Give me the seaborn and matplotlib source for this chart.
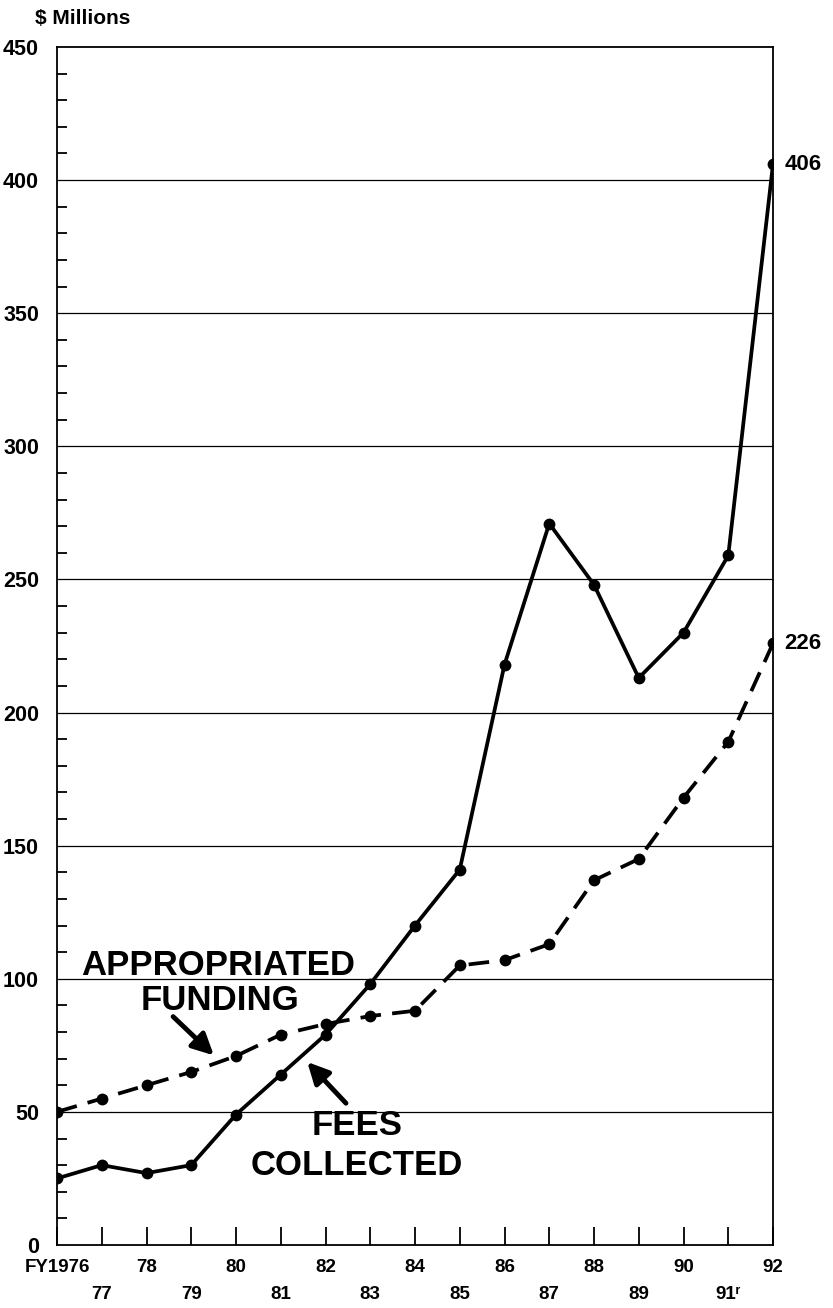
import matplotlib
matplotlib.use('Agg')
import matplotlib.pyplot as plt
import seaborn as sns
import pandas as pd

# データ
years = list(range(1976, 1993))
fees_collected = [25, 30, 27, 30, 49, 64, 79, 98, 120, 141, 218, 271, 248, 213, 230, 259, 406]
appropriated = [50, 55, 60, 65, 71, 79, 83, 86, 88, 105, 107, 113, 137, 145, 168, 189, 226]
year_labels = ['FY1976', '77', '78', '79', '80', '81', '82', '83', '84', '85',
               '86', '87', '88', '89', '90', '91\u02b3', '92']

df = pd.DataFrame({'year': years, 'fees': fees_collected, 'approp': appropriated})

sns.set_style('white')
plt.rcParams['font.family'] = ['Liberation Sans', 'DejaVu Sans']
plt.rcParams['font.weight'] = 'bold'
plt.rcParams['text.color'] = 'black'
plt.rcParams['xtick.color'] = 'black'
plt.rcParams['ytick.color'] = 'black'

fig = plt.figure(figsize=(8.33, 13.08), dpi=100)
ax = fig.add_axes([57 / 833, 1 - 1245 / 1308, (773 - 57) / 833, (1245 - 47) / 1308])

# 横のグリッド線
for v in range(50, 450, 50):
    ax.axhline(v, color='black', lw=0.9, zorder=1)

sns.lineplot(data=df, x='year', y='fees', ax=ax, color='black', lw=2.7,
             marker='o', markersize=8.5, markeredgewidth=0, zorder=3)
sns.lineplot(data=df, x='year', y='approp', ax=ax, color='black', lw=2.7,
             linestyle=(0, (5.5, 3)), marker='o', markersize=8.5,
             markeredgewidth=0, zorder=3)

ax.set_xlim(1976, 1992)
ax.set_ylim(0, 450)
ax.set_xlabel('')
ax.set_ylabel('')

for s in ax.spines.values():
    s.set_visible(True)
    s.set_color('black')
    s.set_linewidth(1.3)

# x軸の目盛り（奇数年は2段目）
ax.set_xticks(years)
labels = [lab if i % 2 == 0 else '\n' + lab for i, lab in enumerate(year_labels)]
ax.set_xticklabels(labels, fontsize=13.5, fontweight='bold')
for t in ax.get_xticklabels():
    t.set_linespacing(1.75)
ax.tick_params(axis='x', direction='in', length=13, width=1.3, pad=10, bottom=True)

ax.set_yticks(range(0, 451, 50))
ax.set_yticklabels([str(v) for v in range(0, 451, 50)], fontsize=15.5, fontweight='bold')
ax.set_yticks(range(0, 451, 10), minor=True)
ax.tick_params(axis='y', which='major', direction='in', length=0, pad=13, left=True)
ax.tick_params(axis='y', which='minor', direction='in', length=7, width=1.3, left=True)

fig.text(35 / 833, 1 - 18 / 1308, '$ Millions', fontsize=15, fontweight='heavy',
         va='center', ha='left')

# 終端の値
ax.text(1992.25, 406, '406', fontsize=16, fontweight='bold', va='center', ha='left',
        clip_on=False)
ax.text(1992.25, 226, '226', fontsize=16, fontweight='bold', va='center', ha='left',
        clip_on=False)

# 注釈
ax.text(1979.6, 105, 'APPROPRIATED', fontsize=25, fontweight='bold',
        ha='center', va='center')
ax.text(1979.65, 92, 'FUNDING', fontsize=25, fontweight='bold',
        ha='center', va='center')
ax.annotate('', xy=(1979.55, 70.5), xytext=(1978.55, 86.5),
            arrowprops=dict(arrowstyle='-|>', color='black', lw=3.5,
                            mutation_scale=32))
ax.text(1982.7, 45, 'FEES', fontsize=25, fontweight='bold',
        ha='center', va='center')
ax.text(1982.7, 30, 'COLLECTED', fontsize=25, fontweight='bold',
        ha='center', va='center')
ax.annotate('', xy=(1981.55, 69.5), xytext=(1982.5, 52.5),
            arrowprops=dict(arrowstyle='-|>', color='black', lw=3.5,
                            mutation_scale=32))

fig.savefig('out.png', dpi=100)
